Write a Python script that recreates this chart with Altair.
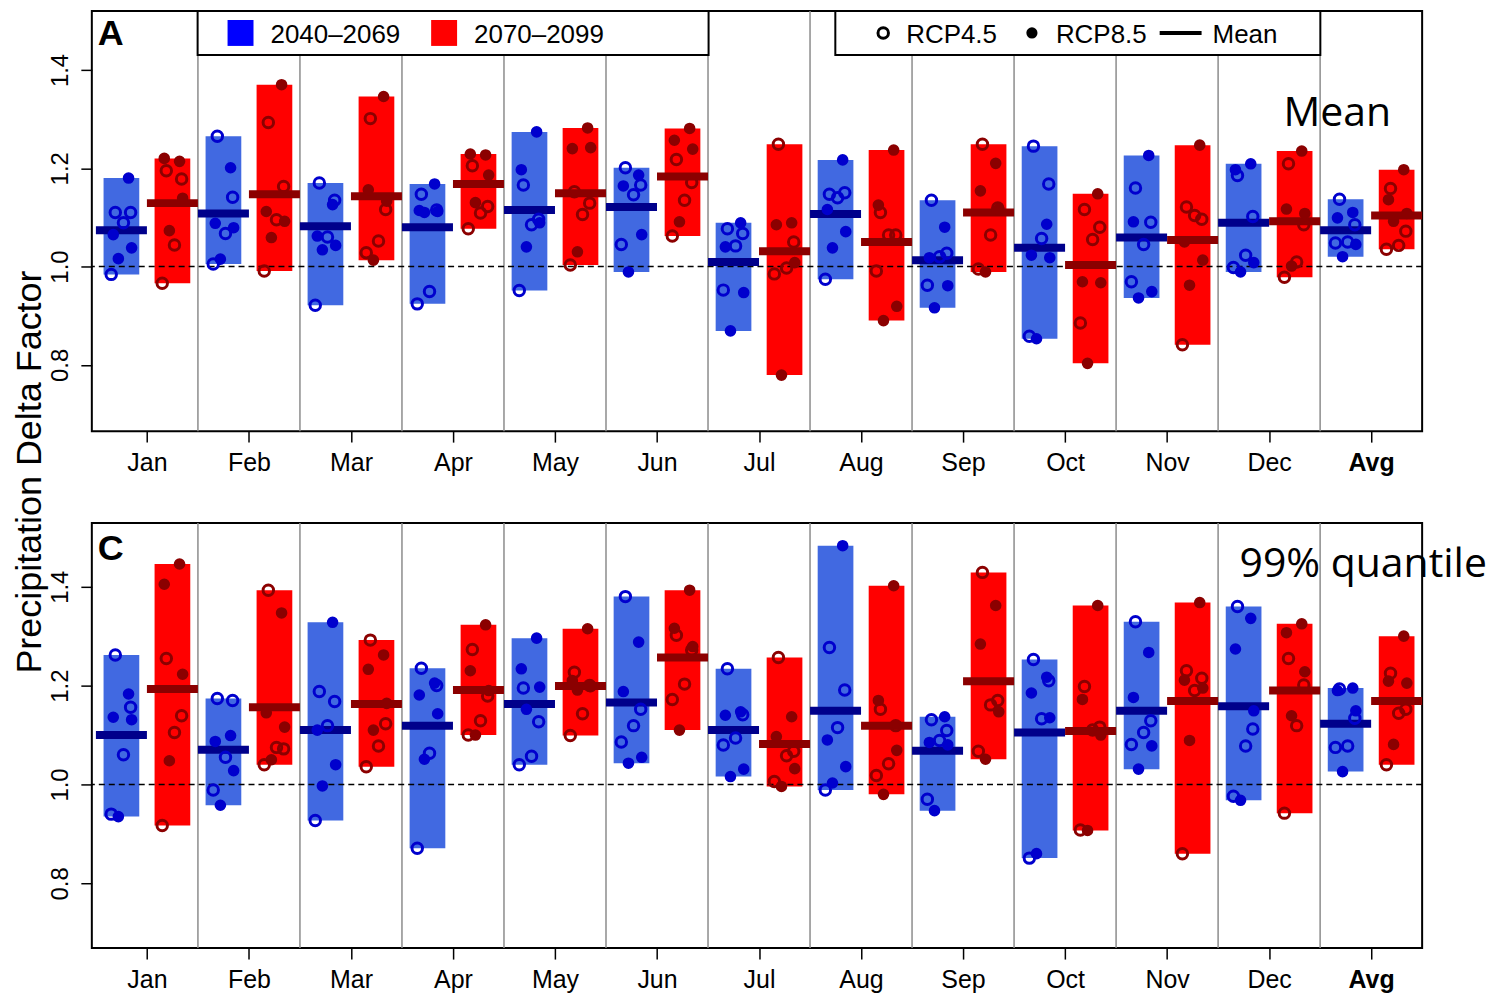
import altair as alt
import pandas as pd

# ---------------- data ----------------
groups = ["Jan", "Feb", "Mar", "Apr", "May", "Jun", "Jul", "Aug", "Sep", "Oct", "Nov", "Dec", "Avg"]
periods = ["2040–2069", "2070–2099"]
scenarios = ["RCP4.5", "RCP8.5"]

# Panel A: mean precipitation delta factor
A_blue_open = [
    [1.110, 1.110, 1.089, 0.984], [1.265, 1.141, 1.067, 1.005], [1.170, 1.135, 1.060, 0.921],
    [1.147, 1.115, 0.949, 0.924], [1.166, 1.096, 1.085, 0.951], [1.201, 1.166, 1.146, 1.045],
    [1.077, 1.067, 1.042, 0.952], [1.147, 1.150, 1.140, 0.974], [1.135, 1.027, 1.020, 0.962],
    [1.245, 1.168, 1.057, 0.858], [1.160, 1.090, 1.045, 0.969], [1.185, 1.102, 1.023, 0.998],
    [1.137, 1.085, 1.050, 1.048]]
A_blue_filled = [
    [1.180, 1.065, 1.038, 1.016], [1.201, 1.088, 1.079, 1.015], [1.126, 1.062, 1.043, 1.034],
    [1.168, 1.114, 1.112, 1.110], [1.274, 1.197, 1.089, 1.040], [1.186, 1.164, 1.065, 0.989],
    [1.089, 1.040, 0.947, 0.869], [1.217, 1.116, 1.071, 1.038], [1.080, 1.018, 0.961, 0.916],
    [1.086, 1.023, 1.018, 0.853], [1.226, 1.091, 0.949, 0.936], [1.209, 1.197, 1.008, 0.989],
    [1.110, 1.099, 1.045, 1.020]]
A_blue_mean = [1.074, 1.108, 1.082, 1.080, 1.115, 1.121, 1.009, 1.107, 1.013, 1.038, 1.059, 1.089, 1.074]
A_red_open = [
    [1.195, 1.178, 1.044, 0.966], [1.293, 1.163, 1.095, 0.991], [1.301, 1.116, 1.052, 1.028],
    [1.205, 1.122, 1.109, 1.077], [1.152, 1.129, 1.106, 1.003], [1.218, 1.171, 1.135, 1.062],
    [1.249, 1.050, 0.997, 0.985], [1.110, 1.064, 1.064, 0.991], [1.249, 1.119, 1.064, 0.995],
    [1.116, 1.080, 1.055, 0.885], [1.121, 1.096, 1.104, 0.841], [1.209, 1.085, 1.009, 0.978],
    [1.159, 1.072, 1.043, 1.035]]
A_red_filled = [
    [1.214, 1.220, 1.139, 1.073], [1.370, 1.112, 1.092, 1.059], [1.346, 1.156, 1.133, 1.013],
    [1.227, 1.229, 1.186, 1.130], [1.282, 1.240, 1.242, 1.030], [1.281, 1.257, 1.239, 1.091],
    [1.089, 1.085, 1.008, 0.779], [1.237, 1.125, 0.919, 0.890], [1.210, 1.154, 1.117, 0.989],
    [1.148, 0.969, 0.967, 0.803], [1.247, 1.050, 1.013, 0.962], [1.235, 1.117, 1.108, 1.001],
    [1.197, 1.136, 1.108, 1.092]]
A_red_mean = [1.129, 1.147, 1.143, 1.168, 1.149, 1.183, 1.031, 1.050, 1.110, 1.003, 1.054, 1.092, 1.104]

# Panel C: 99% quantile delta factor
C_blue_open = [
    [1.262, 1.156, 1.060, 0.940], [1.174, 1.170, 1.055, 0.989], [1.188, 1.168, 1.119, 0.927],
    [1.235, 1.200, 1.063, 0.871], [1.195, 1.127, 1.057, 1.040], [1.380, 1.152, 1.119, 1.086],
    [1.234, 1.141, 1.094, 1.080], [1.277, 1.191, 1.115, 0.989], [1.131, 1.109, 1.089, 0.970],
    [1.253, 1.210, 1.133, 0.851], [1.329, 1.129, 1.105, 1.081], [1.360, 1.112, 1.078, 0.976],
    [1.193, 1.134, 1.078, 1.075]]
C_blue_filled = [
    [1.183, 1.136, 1.131, 0.935], [1.099, 1.087, 1.028, 0.958], [1.328, 1.110, 1.040, 0.997],
    [1.205, 1.181, 1.143, 1.051], [1.296, 1.234, 1.197, 1.152], [1.288, 1.188, 1.055, 1.043],
    [1.147, 1.140, 1.031, 1.016], [1.483, 1.090, 1.036, 1.003], [1.137, 1.085, 1.080, 0.947],
    [1.217, 1.185, 1.135, 0.860], [1.267, 1.176, 1.078, 1.031], [1.336, 1.274, 1.149, 0.968],
    [1.195, 1.190, 1.149, 1.026]]
C_blue_mean = [1.100, 1.070, 1.110, 1.119, 1.163, 1.166, 1.110, 1.149, 1.068, 1.105, 1.149, 1.158, 1.123]
C_red_open = [
    [1.255, 1.139, 1.105, 0.917], [1.393, 1.072, 1.075, 1.040], [1.292, 1.123, 1.078, 1.036],
    [1.273, 1.179, 1.129, 1.100], [1.227, 1.200, 1.143, 1.099], [1.302, 1.272, 1.203, 1.172],
    [1.257, 1.067, 1.058, 1.006], [1.152, 1.119, 1.042, 1.018], [1.429, 1.170, 1.161, 1.067],
    [1.198, 1.116, 1.110, 0.908], [1.230, 1.215, 1.190, 0.860], [1.255, 1.201, 1.119, 0.942],
    [1.225, 1.152, 1.144, 1.040]]
C_red_filled = [
    [1.446, 1.405, 1.223, 1.048], [1.347, 1.145, 1.116, 1.050], [1.262, 1.233, 1.164, 1.110],
    [1.323, 1.230, 1.190, 1.100], [1.315, 1.210, 1.198, 1.191], [1.393, 1.316, 1.279, 1.110],
    [1.137, 1.097, 1.032, 0.996], [1.402, 1.170, 1.069, 0.980], [1.362, 1.284, 1.147, 1.051],
    [1.362, 1.172, 1.100, 0.907], [1.368, 1.211, 1.195, 1.089], [1.325, 1.307, 1.228, 1.139],
    [1.300, 1.209, 1.205, 1.081]]
C_red_mean = [1.193, 1.156, 1.163, 1.191, 1.199, 1.257, 1.082, 1.119, 1.209, 1.108, 1.169, 1.190, 1.169]

y_ticks = [0.8, 1.0, 1.2, 1.4]


def build_tables(blue_open, blue_filled, blue_mean, red_open, red_filled, red_mean):
    pts, means = [], []
    for p, (op, fi, mn) in enumerate([(blue_open, blue_filled, blue_mean),
                                       (red_open, red_filled, red_mean)]):
        for g in range(len(groups)):
            for k, v in enumerate(op[g]):
                pts.append({"g": g, "p": p, "rcp": scenarios[0], "k": k, "value": v})
            for k, v in enumerate(fi[g]):
                pts.append({"g": g, "p": p, "rcp": scenarios[1], "k": k, "value": v})
            means.append({"g": g, "p": p, "mean": mn[g]})
    return pd.DataFrame(pts), pd.DataFrame(means)


# ---------------- styling ----------------
FONT = "Liberation Sans"
xs = alt.Scale(domain=[-0.54, 12.5], nice=False, zero=False)
center = "datum.g + (datum.p == 0 ? -0.25 : 0.25)"
W = 1333


def col(c0, c1):
    return alt.condition("datum.p == 0", alt.value(c0), alt.value(c1))


label_expr = "[" + ",".join("'%s'" % m for m in groups) + "][datum.value]"
x_axis = alt.Axis(values=list(range(len(groups))), labelExpr=label_expr, title=None,
                  labelFontWeight=alt.condition("datum.value == 12", alt.value("bold"), alt.value("normal")),
                  tickSize=11, tickWidth=1.5, tickColor="black", labelFontSize=25, labelFont=FONT,
                  labelColor="black", labelPadding=8, domain=False, grid=False,
                  labelFlush=False, labelOverlap=False)
y_axis = alt.Axis(values=y_ticks, format=".1f", title=None, labelAngle=270, labelAlign="center",
                  labelBaseline="alphabetic", tickSize=11, tickWidth=1.5, tickColor="black",
                  labelPadding=13, labelFontSize=24, labelFont=FONT, labelColor="black",
                  domain=False, grid=False, labelFlush=False, labelOverlap=False)


def X(field):
    return alt.X(field, scale=xs, axis=x_axis)


one = alt.Data(values=[{}])


def txt(text, x, y, size, **kw):
    return alt.Chart(one).mark_text(text=text, fontSize=size, align=kw.pop("align", "left"),
                                    baseline=kw.pop("baseline", "alphabetic"), color="black",
                                    font=kw.pop("font", FONT), **kw).encode(
        x=alt.value(x), y=alt.value(y))


def panel(tables, ydom, height, letter, letter_y, note, note_x, note_y, with_legend):
    P, M = tables
    ys = alt.Scale(domain=ydom, nice=False, zero=False)

    def Y(field):
        return alt.Y(field, scale=ys, axis=y_axis)

    seps = alt.Chart(alt.Data(values=[{"b": i + 0.5} for i in range(len(groups) - 1)])).mark_rule(
        color="#8c8c8c", strokeWidth=1.5).encode(x=X("b:Q"))
    bars = alt.Chart(P).transform_aggregate(
        lo="min(value)", hi="max(value)", groupby=["g", "p"]
    ).transform_calculate(c=center).transform_calculate(
        x1="datum.c - 0.175", x2="datum.c + 0.175"
    ).mark_rect().encode(
        x=X("x1:Q"), x2="x2:Q", y=Y("lo:Q"), y2="hi:Q",
        color=col("#4169E1", "#FF0000"))
    ref = alt.Chart(alt.Data(values=[{"r": 1.0}])).mark_rule(
        color="black", strokeWidth=1.5, strokeDash=[6, 4]).encode(y=Y("r:Q"))
    mean = alt.Chart(M).transform_calculate(c=center).transform_calculate(
        x1="datum.c - 0.25", x2="datum.c + 0.25"
    ).mark_rule(strokeWidth=8, strokeCap="butt").encode(
        x=X("x1:Q"), x2="x2:Q", y=Y("mean:Q"),
        color=col("#00008B", "#8B0000"))
    opn = alt.Chart(P).transform_filter(alt.datum.rcp == scenarios[0]).transform_calculate(
        xp=center + " + [-0.06, 0.09, 0.02, -0.10][datum.k]"
    ).mark_point(filled=False, strokeWidth=3, size=110, opacity=1).encode(
        x=X("xp:Q"), y=Y("value:Q"), color=col("#0000CD", "#8B0000"))
    fil = alt.Chart(P).transform_filter(alt.datum.rcp == scenarios[1]).transform_calculate(
        xp=center + " + [0.07, -0.08, 0.10, -0.03][datum.k]"
    ).mark_circle(size=135, opacity=1).encode(
        x=X("xp:Q"), y=Y("value:Q"), color=col("#0000CD", "#8B0000"))
    layers = [seps, bars, ref, mean, opn, fil,
              txt(letter, 6, letter_y, 36, fontWeight="bold"),
              txt(note, note_x, note_y, 41, font="Open Sans")]
    if with_legend:
        def box(x1, x2):
            return alt.Chart(one).mark_rect(fill="white", stroke="black", strokeWidth=2).encode(
                x=alt.value(x1), x2=alt.value(x2), y=alt.value(0), y2=alt.value(44))

        def sq(x1, c):
            return alt.Chart(one).mark_rect(color=c).encode(
                x=alt.value(x1), x2=alt.value(x1 + 26), y=alt.value(9), y2=alt.value(35))
        layers += [
            box(106, 618), box(745, 1231),
            sq(136, "#0000FF"), txt(periods[0], 179, 32, 26),
            sq(340, "#FF0000"), txt(periods[1], 383, 32, 26),
            alt.Chart(one).mark_point(filled=False, strokeWidth=3, size=110, color="black",
                                      opacity=1).encode(x=alt.value(793), y=alt.value(22)),
            txt(scenarios[0], 816, 32, 26),
            alt.Chart(one).mark_circle(size=125, color="black", opacity=1).encode(
                x=alt.value(942), y=alt.value(22)),
            txt(scenarios[1], 966, 32, 26),
            alt.Chart(one).mark_rule(color="black", strokeWidth=4).encode(
                x=alt.value(1070), x2=alt.value(1112), y=alt.value(22)),
            txt("Mean", 1123, 32, 26),
            # invisible spacer fixing the chart's left edge so the title fits inside it
            alt.Chart(one).mark_rule(strokeOpacity=0, color="white").encode(
                x=alt.value(-83), y=alt.value(450), y2=alt.value(460)),
            txt("Precipitation Delta Factor", -50.5, 462, 36, angle=270, align="center"),
        ]
    return alt.layer(*layers).properties(width=W, height=height)


A = panel(build_tables(A_blue_open, A_blue_filled, A_blue_mean, A_red_open, A_red_filled, A_red_mean),
          [0.665, 1.520], 421, "A", 34, "Mean", 1194, 115, True)
C = panel(build_tables(C_blue_open, C_blue_filled, C_blue_mean, C_red_open, C_red_filled, C_red_mean),
          [0.669, 1.529], 426, "C", 37, "99% quantile", 1150, 54, False)

chart = alt.vconcat(A, C, spacing=92, bounds="flush").properties(
    padding=0, background="white"
).configure_view(stroke="black", strokeWidth=2)

chart.save("out.html", embed_options={"renderer": "svg", "actions": False})
